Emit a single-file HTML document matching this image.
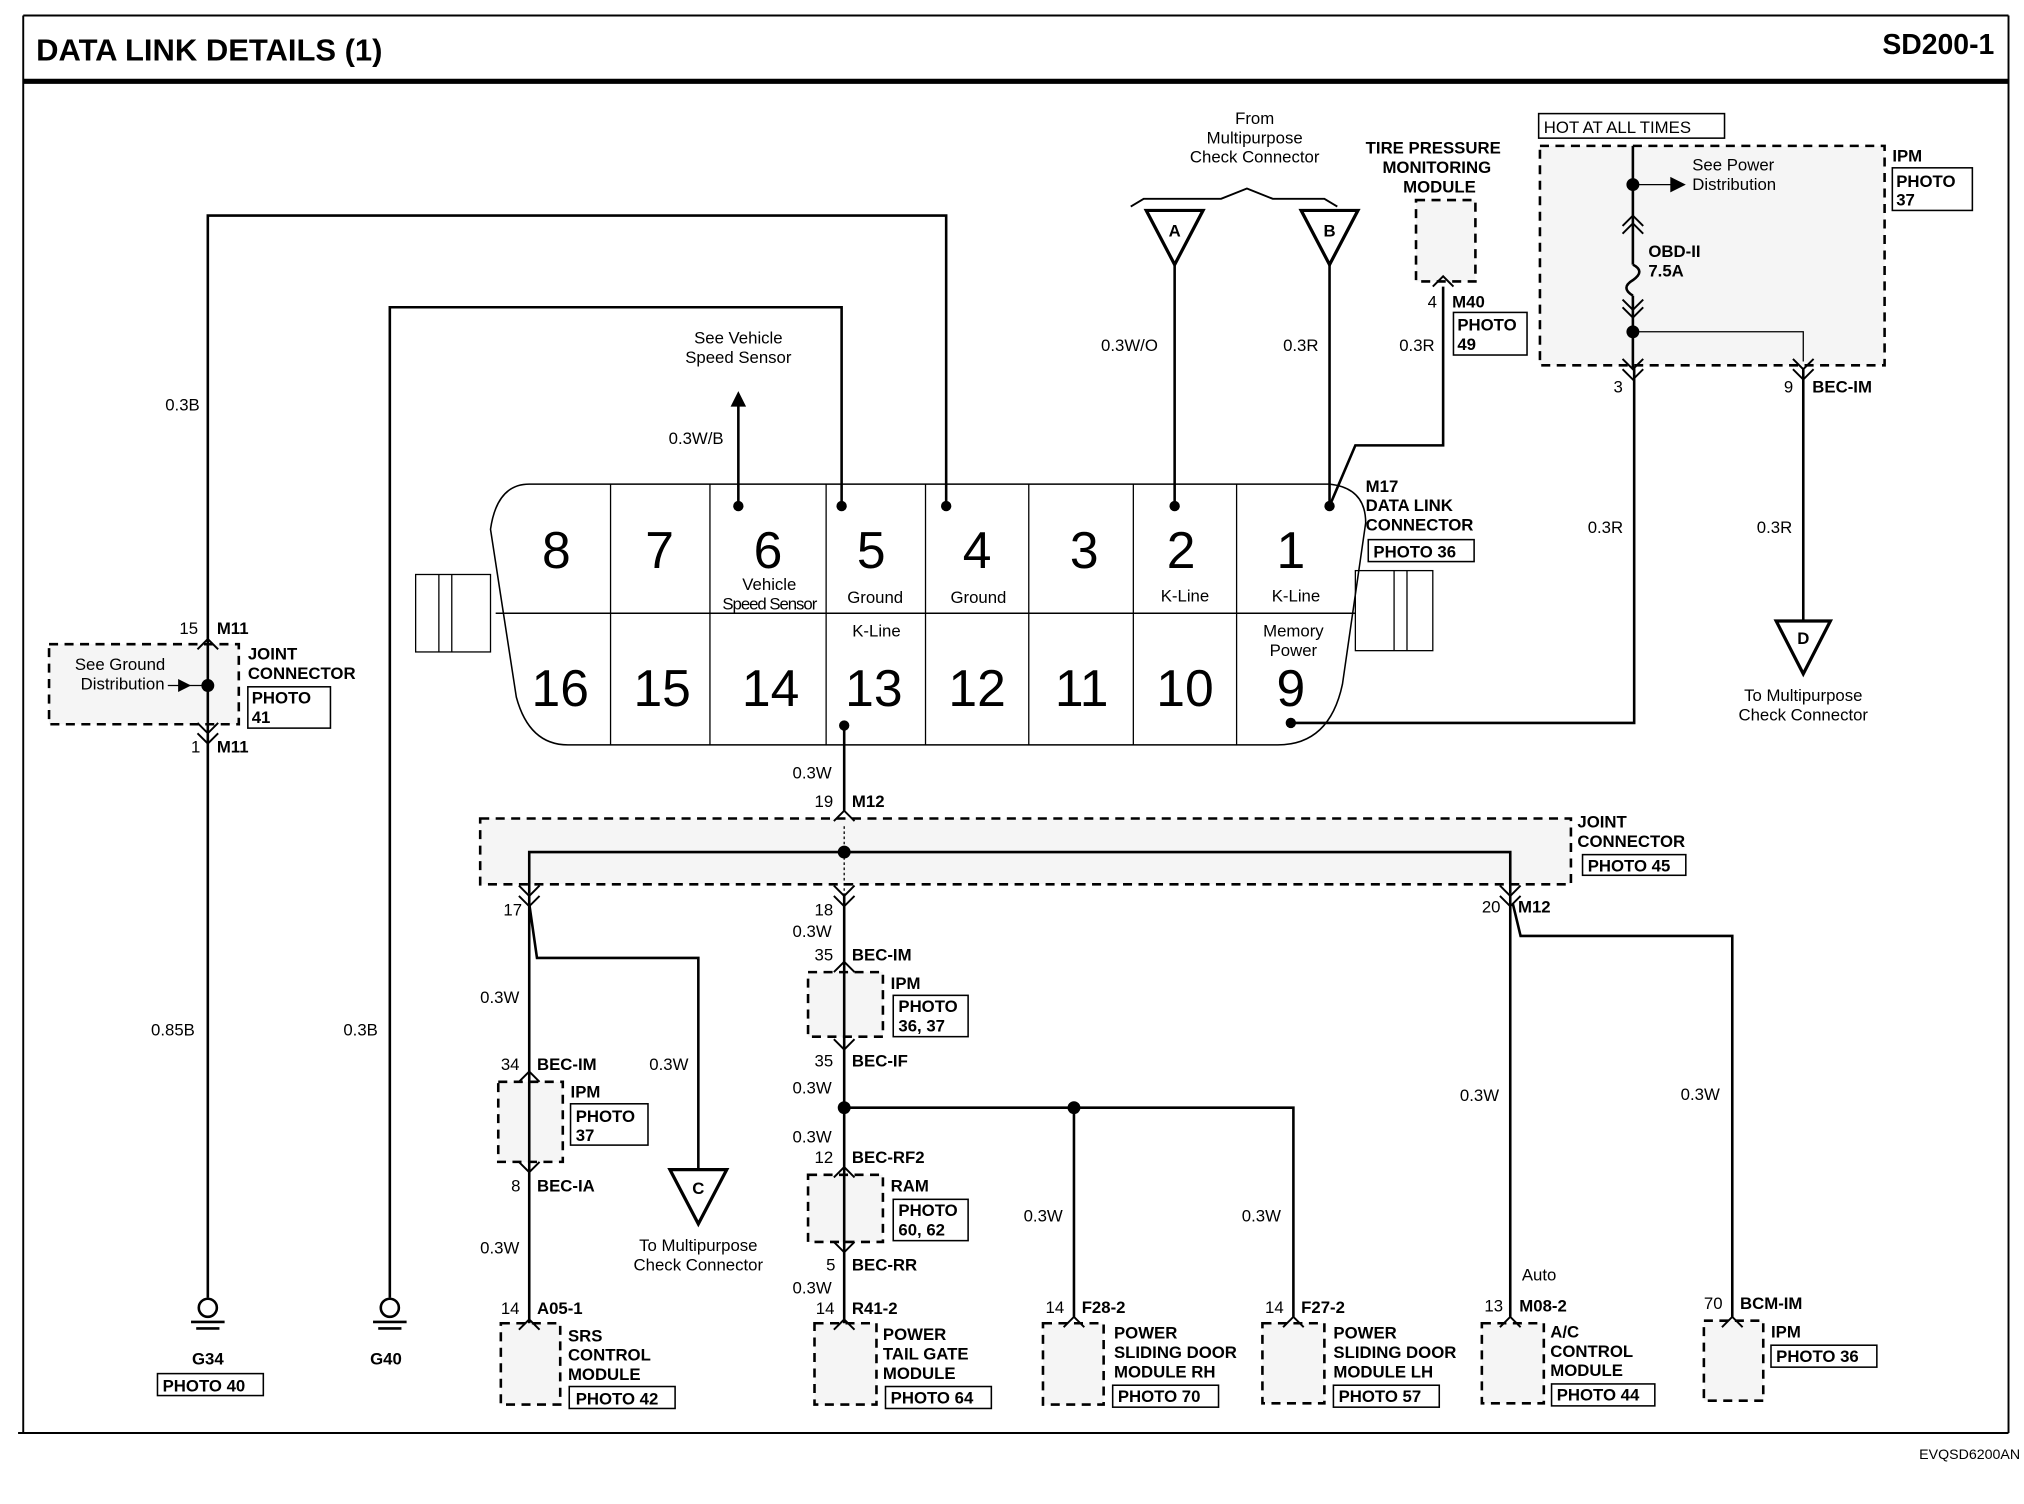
<!DOCTYPE html>
<html><head><meta charset="utf-8"><style>
html,body{margin:0;padding:0;background:#fff}
svg{display:block}
text{font-family:"Liberation Sans",Arial,sans-serif;fill:#000}
.b{font-weight:bold}
</style></head><body>
<svg width="2024" height="1504" viewBox="0 0 1568 1165" preserveAspectRatio="none" xmlns="http://www.w3.org/2000/svg">
<!-- dashed boxes (drawn first so wires appear on top) -->
<g fill="#f5f5f5" stroke="#000" stroke-width="2" stroke-dasharray="7,5">
<rect x="1193" y="113" width="267" height="170"/>
<rect x="38" y="499" width="147" height="62"/>
<rect x="372" y="634" width="845" height="51"/>
<rect x="386" y="838" width="50" height="62"/>
<rect x="626" y="753" width="58" height="50"/>
<rect x="626" y="910" width="58" height="52"/>
<rect x="1097" y="155" width="46" height="63"/>
<rect x="388" y="1025" width="46" height="63"/>
<rect x="631" y="1025" width="48" height="63"/>
<rect x="808" y="1025" width="47" height="63"/>
<rect x="978" y="1025" width="48" height="62"/>
<rect x="1148" y="1025" width="48" height="62"/>
<rect x="1320" y="1023" width="46" height="62"/>
</g>
<g fill="none" stroke="#000" stroke-width="2">
<!-- frame -->
<line x1="18" y1="12" x2="1556" y2="12" stroke-width="1.5"/>
<line x1="18" y1="12" x2="18" y2="1110" stroke-width="1.5"/>
<line x1="1556" y1="12" x2="1556" y2="1110" stroke-width="1.5"/>
<line x1="14" y1="1110" x2="1556" y2="1110" stroke-width="1.5"/>
<line x1="18" y1="63" x2="1556" y2="63" stroke-width="4"/>

<!-- connector body -->
<path d="M410 375 L1030 375 Q1058 378 1058 405 L1040 530 Q1030 577 990 577 L440 577 Q410 577 400 540 L380 410 Q385 375 410 375 Z" stroke-width="1.2"/>
<line x1="384" y1="475" x2="1050" y2="475" stroke-width="1.2"/>
<g stroke-width="1"><line x1="473" y1="375" x2="473" y2="577"/><line x1="550" y1="375" x2="550" y2="577"/><line x1="640" y1="375" x2="640" y2="577"/><line x1="717" y1="375" x2="717" y2="577"/><line x1="797" y1="375" x2="797" y2="577"/><line x1="878" y1="375" x2="878" y2="577"/><line x1="958" y1="375" x2="958" y2="577"/>
<rect x="322" y="445" width="58" height="60"/><line x1="340" y1="445" x2="340" y2="505"/><line x1="350" y1="445" x2="350" y2="505"/>
<rect x="1050" y="442" width="60" height="62"/><line x1="1080" y1="442" x2="1080" y2="504"/><line x1="1090" y1="442" x2="1090" y2="504"/></g>

<!-- wires -->
<polyline points="733,392 733,167 161,167 161,1005"/>
<polyline points="652,392 652,238 302,238 302,1005"/>
<line x1="572" y1="392" x2="572" y2="312"/>
<line x1="910" y1="392" x2="910" y2="205"/>
<line x1="1030" y1="392" x2="1030" y2="205"/>
<polyline points="1030,392 1050,345 1118,345 1118,222"/>
<polyline points="1000,560 1266,560 1266,285"/>
<line x1="1397" y1="285" x2="1397" y2="480"/>
<line x1="654" y1="562" x2="654" y2="628"/>
<polyline points="410,692 410,660 1170,660 1170,692"/>
<line x1="654" y1="640" x2="654" y2="692" stroke-width="1" stroke-dasharray="2,2"/>
<line x1="410" y1="692" x2="410" y2="1025"/>
<polyline points="410,700 416,742 541,742 541,905"/>
<line x1="654" y1="692" x2="654" y2="1025"/>
<polyline points="654,858 1002,858 1002,1020"/>
<line x1="832" y1="858" x2="832" y2="1020"/>
<line x1="1170" y1="692" x2="1170" y2="1020"/>
<polyline points="1172,700 1178,725 1342,725 1342,1020"/>
<!-- IPM internal -->
<polyline points="1265,113 1265,205"/>
<polyline points="1265,229 1265,285"/>
<polyline points="1265,257 1397,257 1397,280" stroke-width="1"/>
<line x1="1265" y1="143" x2="1295" y2="143" stroke-width="1"/>
</g>
<polygon points="1294,137 1306,143 1294,149" fill="#000"/>
<polygon points="566,315 572,303 578,315" fill="#000"/>
<g fill="#000">
<circle cx="733" cy="392" r="4"/><circle cx="652" cy="392" r="4"/><circle cx="572" cy="392" r="4"/><circle cx="910" cy="392" r="4"/><circle cx="1030" cy="392" r="4"/><circle cx="1000" cy="560" r="4"/><circle cx="654" cy="562" r="4"/><circle cx="654" cy="660" r="5"/><circle cx="654" cy="858" r="5"/><circle cx="832" cy="858" r="5"/><circle cx="1265" cy="143" r="5"/><circle cx="1265" cy="257" r="5"/><circle cx="161" cy="531" r="5"/>
</g>
<line x1="130" y1="531" x2="161" y2="531" stroke="#000" stroke-width="1"/>
<polygon points="138,526 148,531 138,536" fill="#000"/>
<!-- fuse -->
<path d="M1265 205 q10 5 0 12 q-10 6 0 12" fill="none" stroke="#000" stroke-width="2"/>

<!-- chevrons -->
<g fill="none" stroke="#000" stroke-width="1.5">
<path d="M153 503 l8 -8 l8 8 M153 568 l8 8 l8 -8 M153 560 l8 8 l8 -8"/>
<path d="M646 636 l8 -8 l8 8 M402 686 l8 8 l8 -8 M646 686 l8 8 l8 -8 M1162 686 l8 8 l8 -8 M402 694 l8 8 l8 -8 M646 694 l8 8 l8 -8 M1162 694 l8 8 l8 -8"/>
<path d="M402 838 l8 -8 l8 8 M402 900 l8 8 l8 -8 M646 753 l8 -8 l8 8 M646 805 l8 8 l8 -8 M646 912 l8 -8 l8 8 M646 962 l8 8 l8 -8"/>
<path d="M402 1030 l8 -8 l8 8 M646 1030 l8 -8 l8 8 M824 1028 l8 -8 l8 8 M994 1028 l8 -8 l8 8 M1162 1028 l8 -8 l8 8 M1334 1028 l8 -8 l8 8 M1110 222 l8 -8 l8 8"/>
<path d="M1257 175 l8 -8 l8 8 M1257 181 l8 -8 l8 8 M1257 232 l8 8 l8 -8 M1257 238 l8 8 l8 -8 M1257 278 l8 8 l8 -8 M1257 286 l8 8 l8 -8 M1389 278 l8 8 l8 -8 M1389 286 l8 8 l8 -8"/>
<path d="M876 160 l10 -6 l60 0 l20 -8 l20 8 l40 0 l10 6"/>
</g>
<!-- triangles -->
<g fill="#fff" stroke="#000" stroke-width="2.5">
<polygon points="888,163 932,163 910,205"/><polygon points="1008,163 1052,163 1030,205"/>
<polygon points="1376,481 1418,481 1397,522"/><polygon points="519,906 563,906 541,948"/>
</g>
<!-- grounds -->
<g fill="none" stroke="#000" stroke-width="2">
<circle cx="161" cy="1013" r="7"/><line x1="148" y1="1024" x2="174" y2="1024"/><line x1="152" y1="1029" x2="170" y2="1029"/>
<circle cx="302" cy="1013" r="7"/><line x1="289" y1="1024" x2="315" y2="1024"/><line x1="293" y1="1029" x2="311" y2="1029"/>
</g>
<!-- photo boxes -->
<g fill="none" stroke="#000" stroke-width="1.2">
<rect x="1192" y="88" width="144" height="19"/><rect x="1466" y="130" width="62" height="33"/><rect x="1126" y="242" width="57" height="33"/>
<rect x="1060" y="418" width="82" height="17"/><rect x="192" y="532" width="64" height="32"/><rect x="442" y="855" width="60" height="32"/>
<rect x="692" y="771" width="58" height="32"/><rect x="692" y="929" width="58" height="32"/><rect x="122" y="1064" width="82" height="17"/>
<rect x="441" y="1074" width="82" height="17"/><rect x="686" y="1074" width="82" height="17"/><rect x="862" y="1073" width="82" height="17"/>
<rect x="1033" y="1073" width="82" height="17"/><rect x="1202" y="1072" width="80" height="17"/><rect x="1372" y="1042" width="82" height="17"/>
<rect x="1226" y="662" width="80" height="16"/>
</g>

<!-- text -->
<text x="28" y="47" font-size="24" class="b">DATA LINK DETAILS (1)</text>
<text x="1545" y="42" font-size="22" class="b" text-anchor="end">SD200-1</text>
<text x="1565" y="1130" font-size="11" text-anchor="end">EVQSD6200AN</text>
<g font-size="40" text-anchor="middle">
<text x="431" y="440">8</text><text x="511" y="440">7</text><text x="595" y="440">6</text><text x="675" y="440">5</text><text x="757" y="440">4</text><text x="840" y="440">3</text><text x="915" y="440">2</text><text x="1000" y="440">1</text>
<text x="434" y="547">16</text><text x="513" y="547">15</text><text x="597" y="547">14</text><text x="677" y="547">13</text><text x="757" y="547">12</text><text x="838" y="547">11</text><text x="918" y="547">10</text><text x="1000" y="547">9</text>
</g>
<g font-size="13" text-anchor="middle">
<text x="596" y="457">Vehicle</text><text x="596" y="472" letter-spacing="-0.8">Speed Sensor</text>
<text x="678" y="467">Ground</text><text x="758" y="467">Ground</text><text x="918" y="466">K-Line</text><text x="1004" y="466">K-Line</text>
<text x="679" y="493">K-Line</text><text x="1002" y="493">Memory</text><text x="1002" y="508">Power</text>
<text x="972" y="96">From</text><text x="972" y="111">Multipurpose</text><text x="972" y="126">Check Connector</text>
<text x="572" y="266">See Vehicle</text><text x="572" y="281">Speed Sensor</text>
<text x="1397" y="543">To Multipurpose</text><text x="1397" y="558">Check Connector</text>
<text x="541" y="969">To Multipurpose</text><text x="541" y="984">Check Connector</text>
<text x="93" y="519">See Ground</text><text x="95" y="534">Distribution</text>
<text x="910" y="183" class="b">A</text><text x="1030" y="183" class="b">B</text><text x="1397" y="499" class="b">D</text><text x="541" y="925" class="b">C</text>
<text x="161" y="1057" class="b">G34</text><text x="299" y="1057" class="b">G40</text>
</g>
<g font-size="13">
<text x="128" y="318">0.3B</text><text x="518" y="344">0.3W/B</text><text x="853" y="272">0.3W/O</text><text x="994" y="272">0.3R</text><text x="1084" y="272">0.3R</text>
<text x="1230" y="413">0.3R</text><text x="1361" y="413">0.3R</text><text x="614" y="603">0.3W</text>
<text x="117" y="802">0.85B</text><text x="266" y="802">0.3B</text><text x="372" y="777">0.3W</text><text x="503" y="829">0.3W</text><text x="372" y="971">0.3W</text>
<text x="614" y="726">0.3W</text><text x="614" y="847">0.3W</text><text x="614" y="885">0.3W</text><text x="614" y="1002">0.3W</text>
<text x="793" y="946">0.3W</text><text x="962" y="946">0.3W</text><text x="1131" y="853">0.3W</text><text x="1302" y="852">0.3W</text><text x="1179" y="992">Auto</text>
<text x="139" y="491">15</text><text x="148" y="583">1</text><text x="631" y="625">19</text><text x="390" y="709">17</text><text x="631" y="709">18</text><text x="1148" y="707">20</text>
<text x="631" y="744">35</text><text x="631" y="826">35</text><text x="388" y="829">34</text><text x="396" y="923">8</text><text x="631" y="901">12</text><text x="640" y="984">5</text>
<text x="388" y="1018">14</text><text x="632" y="1018">14</text><text x="810" y="1017">14</text><text x="980" y="1017">14</text><text x="1150" y="1016">13</text><text x="1320" y="1014">70</text>
<text x="1106" y="238">4</text><text x="1250" y="304">3</text><text x="1382" y="304">9</text>
<text x="1196" y="103">HOT AT ALL TIMES</text>
</g>
<g font-size="13" class="b">
<text x="168" y="491">M11</text><text x="168" y="583">M11</text><text x="192" y="511">JOINT</text><text x="192" y="526">CONNECTOR</text><text x="195" y="545">PHOTO</text><text x="195" y="560">41</text>
<text x="660" y="625">M12</text><text x="1222" y="641">JOINT</text><text x="1222" y="656">CONNECTOR</text><text x="1230" y="675">PHOTO 45</text><text x="1176" y="707">M12</text>
<text x="1058" y="381">M17</text><text x="1058" y="396">DATA LINK</text><text x="1058" y="411">CONNECTOR</text><text x="1064" y="432">PHOTO 36</text>
<text x="1058" y="119">TIRE PRESSURE</text><text x="1071" y="134">MONITORING</text><text x="1087" y="149">MODULE</text>
<text x="1125" y="238">M40</text><text x="1129" y="256">PHOTO</text><text x="1129" y="271">49</text>
<text x="1466" y="125">IPM</text><text x="1469" y="145">PHOTO</text><text x="1469" y="159">37</text><text x="1404" y="304">BEC-IM</text>
<text x="1277" y="199">OBD-II</text><text x="1277" y="214">7.5A</text>
</g>
<g font-size="13">
<text x="1311" y="132">See Power</text><text x="1311" y="147">Distribution</text>
</g>
<g font-size="13" class="b">
<text x="660" y="744">BEC-IM</text><text x="690" y="766">IPM</text><text x="696" y="784">PHOTO</text><text x="696" y="799">36, 37</text><text x="660" y="826">BEC-IF</text>
<text x="660" y="901">BEC-RF2</text><text x="690" y="923">RAM</text><text x="696" y="942">PHOTO</text><text x="696" y="957">60, 62</text><text x="660" y="984">BEC-RR</text>
<text x="416" y="829">BEC-IM</text><text x="442" y="850">IPM</text><text x="446" y="869">PHOTO</text><text x="446" y="884">37</text><text x="416" y="923">BEC-IA</text>
<text x="416" y="1018">A05-1</text><text x="440" y="1039">SRS</text><text x="440" y="1054">CONTROL</text><text x="440" y="1069">MODULE</text><text x="446" y="1088">PHOTO 42</text>
<text x="660" y="1018">R41-2</text><text x="684" y="1038">POWER</text><text x="684" y="1053">TAIL GATE</text><text x="684" y="1068">MODULE</text><text x="690" y="1087">PHOTO 64</text>
<text x="838" y="1017">F28-2</text><text x="863" y="1037">POWER</text><text x="863" y="1052">SLIDING DOOR</text><text x="863" y="1067">MODULE RH</text><text x="866" y="1086">PHOTO 70</text>
<text x="1008" y="1017">F27-2</text><text x="1033" y="1037">POWER</text><text x="1033" y="1052">SLIDING DOOR</text><text x="1033" y="1067">MODULE LH</text><text x="1037" y="1086">PHOTO 57</text>
<text x="1177" y="1016">M08-2</text><text x="1201" y="1036">A/C</text><text x="1201" y="1051">CONTROL</text><text x="1201" y="1066">MODULE</text><text x="1206" y="1085">PHOTO 44</text>
<text x="1348" y="1014">BCM-IM</text><text x="1372" y="1036">IPM</text><text x="1376" y="1055">PHOTO 36</text>
<text x="126" y="1078">PHOTO 40</text>
</g>
</svg>
</body></html>
